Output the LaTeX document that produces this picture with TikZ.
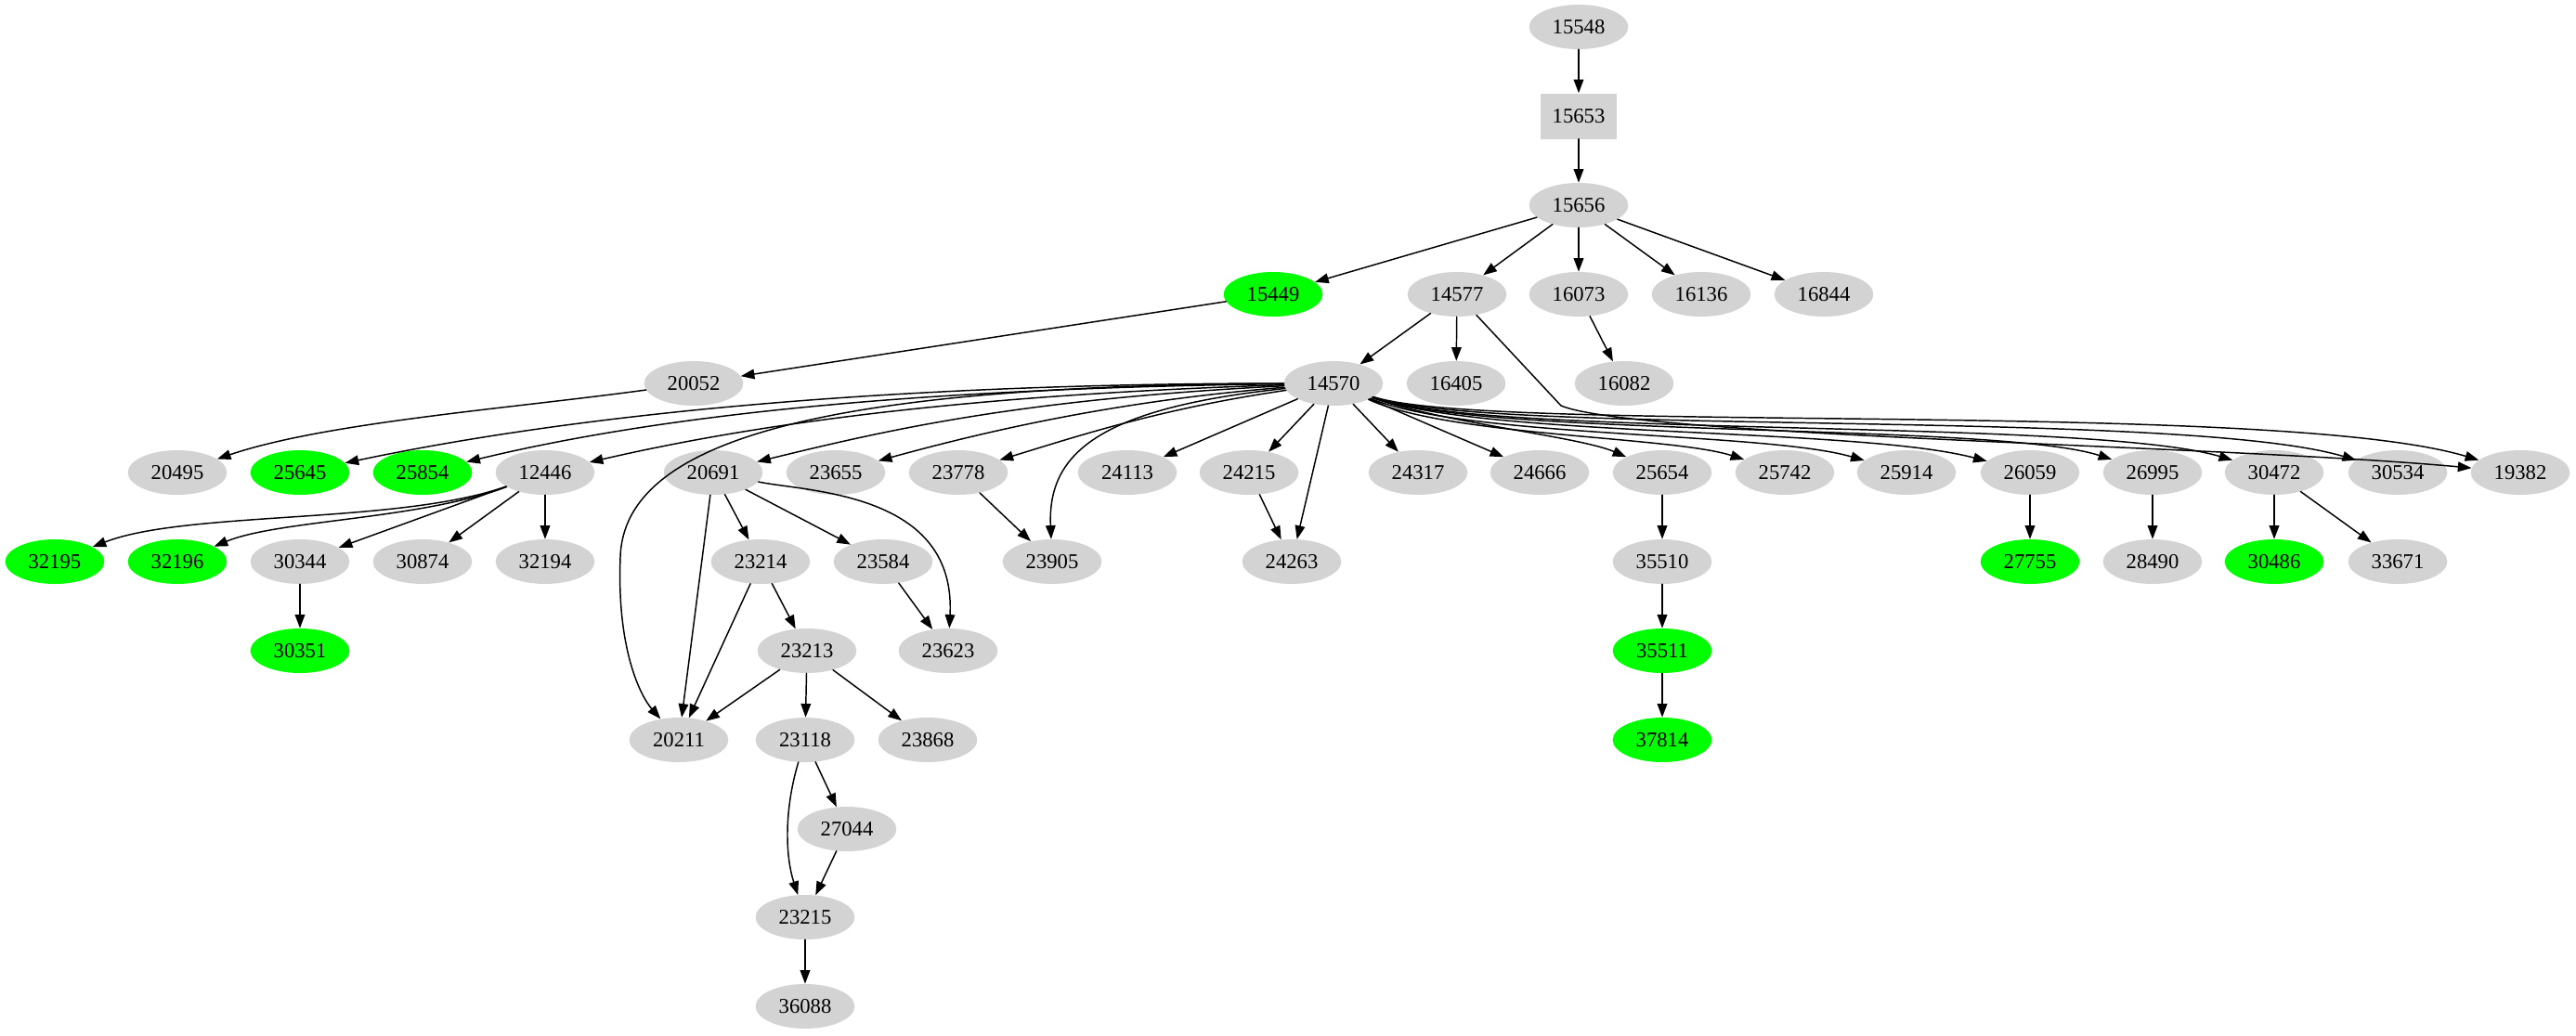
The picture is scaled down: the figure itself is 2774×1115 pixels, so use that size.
\documentclass[tikz,border=0pt]{standalone}
\usepackage{fontspec}
\setmainfont{Liberation Serif}
\usepackage{tikz}
\usetikzlibrary{arrows.meta}
\usetikzlibrary{shapes.geometric}

\definecolor{gvgray}{HTML}{D3D3D3}
\definecolor{gvgreen}{HTML}{00FF00}

\begin{document}
\begin{tikzpicture}[x=0.75pt,y=-0.75pt,line cap=round,line join=round,
        gnode/.style={ellipse,fill=gvgray,minimum width=80pt,minimum height=36pt,inner sep=0pt,font=\fontsize{17}{19}\selectfont},
        gleaf/.style={gnode,fill=gvgreen},
        gbox/.style={rectangle,fill=gvgray,minimum width=61.5pt,minimum height=36.75pt,inner sep=0pt,font=\fontsize{17}{19}\selectfont},
        edge/.style={-{Triangle[length=11pt,width=8pt]},line width=1.1pt}]
        \useasboundingbox (0,0) rectangle (2774,1115);

        % top chain
        \node[gnode] (n15548) at (1700, 29) {15548};
        \node[gbox] (n15653) at (1700, 125) {15653};
        \node[gnode] (n15656) at (1700, 221) {15656};

        \node[gleaf] (n15449) at (1371, 317) {15449};
        \node[gnode] (n14577) at (1569, 317) {14577};
        \node[gnode] (n16073) at (1700, 317) {16073};
        \node[gnode] (n16136) at (1832, 317) {16136};
        \node[gnode] (n16844) at (1964, 317) {16844};

        \node[gnode] (n20052) at (747, 413) {20052};
        \node[gnode] (n14570) at (1436, 413) {14570};
        \node[gnode] (n16405) at (1568, 413) {16405};
        \node[gnode] (n16082) at (1749, 413) {16082};

        % children of 14570
        \node[gnode] (n20495) at (191, 509) {20495};
        \node[gleaf] (n25645) at (323, 509) {25645};
        \node[gleaf] (n25854) at (455, 509) {25854};
        \node[gnode] (n12446) at (587, 509) {12446};
        \node[gnode] (n20691) at (768, 509) {20691};
        \node[gnode] (n23655) at (900, 509) {23655};
        \node[gnode] (n23778) at (1032, 509) {23778};
        \node[gnode] (n24113) at (1214, 509) {24113};
        \node[gnode] (n24215) at (1345, 509) {24215};
        \node[gnode] (n24317) at (1527, 509) {24317};
        \node[gnode] (n24666) at (1658, 509) {24666};
        \node[gnode] (n25654) at (1790, 509) {25654};
        \node[gnode] (n25742) at (1922, 509) {25742};
        \node[gnode] (n25914) at (2053, 509) {25914};
        \node[gnode] (n26059) at (2186, 509) {26059};
        \node[gnode] (n26995) at (2318, 509) {26995};
        \node[gnode] (n30472) at (2449, 509) {30472};
        \node[gnode] (n30534) at (2582, 509) {30534};
        \node[gnode] (n19382) at (2714, 509) {19382};

        \node[gleaf] (n32195) at (59, 605) {32195};
        \node[gleaf] (n32196) at (191, 605) {32196};
        \node[gnode] (n30344) at (323, 605) {30344};
        \node[gnode] (n30874) at (455, 605) {30874};
        \node[gnode] (n32194) at (587, 605) {32194};
        \node[gnode] (n23214) at (819, 605) {23214};
        \node[gnode] (n23584) at (951, 605) {23584};
        \node[gnode] (n23905) at (1133, 605) {23905};
        \node[gnode] (n24263) at (1391, 605) {24263};
        \node[gnode] (n35510) at (1790, 605) {35510};
        \node[gleaf] (n27755) at (2186, 605) {27755};
        \node[gnode] (n28490) at (2318, 605) {28490};
        \node[gleaf] (n30486) at (2449, 605) {30486};
        \node[gnode] (n33671) at (2582, 605) {33671};

        \node[gleaf] (n30351) at (323, 701) {30351};
        \node[gnode] (n23213) at (869, 701) {23213};
        \node[gnode] (n23623) at (1021, 701) {23623};
        \node[gleaf] (n35511) at (1790, 701) {35511};

        \node[gnode] (n20211) at (731, 797) {20211};
        \node[gnode] (n23118) at (867, 797) {23118};
        \node[gnode] (n23868) at (999, 797) {23868};
        \node[gleaf] (n37814) at (1790, 797) {37814};

        \node[gnode] (n27044) at (912, 893) {27044};
        \node[gnode] (n23215) at (867, 988) {23215};
        \node[gnode] (n36088) at (867, 1084) {36088};

        % straight edges
        \draw[edge] (n15548) -- (n15653);
        \draw[edge] (n15653) -- (n15656);
        \draw[edge] (n15656) -- (n15449);
        \draw[edge] (n15656) -- (n14577);
        \draw[edge] (n15656) -- (n16073);
        \draw[edge] (n15656) -- (n16136);
        \draw[edge] (n15656) -- (n16844);
        \draw[edge] (n15449) -- (n20052);
        \draw[edge] (n14577) -- (n14570);
        \draw[edge] (n14577) -- (n16405);
        \draw[edge] (n16073) -- (n16082);

        \draw[edge] (n14570) -- (n24113);
        \draw[edge] (n14570) -- (n24215);
        \draw[edge] (n14570) -- (n24263);
        \draw[edge] (n14570) -- (n24317);
        \draw[edge] (n14570) -- (n24666);

        \draw[edge] (n12446) -- (n30344);
        \draw[edge] (n12446) -- (n30874);
        \draw[edge] (n12446) -- (n32194);
        \draw[edge] (n30344) -- (n30351);
        \draw[edge] (n20691) -- (n20211);
        \draw[edge] (n20691) -- (n23214);
        \draw[edge] (n20691) -- (n23584);
        \draw[edge] (n23214) -- (n20211);
        \draw[edge] (n23214) -- (n23213);
        \draw[edge] (n23213) -- (n20211);
        \draw[edge] (n23213) -- (n23118);
        \draw[edge] (n23213) -- (n23868);
        \draw[edge] (n23118) -- (n27044);
        \draw[edge] (n27044) -- (n23215);
        \draw[edge] (n23215) -- (n36088);
        \draw[edge] (n23584) -- (n23623);
        \draw[edge] (n23778) -- (n23905);
        \draw[edge] (n24215) -- (n24263);
        \draw[edge] (n25654) -- (n35510);
        \draw[edge] (n35510) -- (n35511);
        \draw[edge] (n35511) -- (n37814);
        \draw[edge] (n26059) -- (n27755);
        \draw[edge] (n26995) -- (n28490);
        \draw[edge] (n30472) -- (n30486);
        \draw[edge] (n30472) -- (n33671);

        % curved edges, left side
        \draw[edge] (n20052) .. controls (550,440) and (350,455) .. (n20495);
        \draw[edge] (n14570) .. controls (1000,413) and (650,440) .. (n25645);
        \draw[edge] (n14570) .. controls (1000,418) and (720,445) .. (n25854);
        \draw[edge] (n14570) .. controls (1050,425) and (820,455) .. (n12446);
        \draw[edge] (n14570) .. controls (1100,430) and (960,462) .. (n20691);
        \draw[edge] (n14570) .. controls (1200,432) and (1060,465) .. (n23655);
        \draw[edge] (n14570) .. controls (1250,440) and (1160,470) .. (n23778);
        \draw[edge] (n14570) .. controls (900,415) and (672,470) .. (668,600)
            .. controls (664,700) and (690,750) .. (n20211);
        \draw[edge] (n14570) .. controls (1180,440) and (1128,490) .. (n23905);
        \draw[edge] (n20691) .. controls (870,530) and (1030,530) .. (n23623);
        \draw[edge] (n23118) .. controls (845,870) and (845,920) .. (n23215);
        \draw[edge] (n12446) .. controls (430,565) and (200,550) .. (n32195);
        \draw[edge] (n12446) .. controls (450,560) and (300,560) .. (n32196);

        % curved edges, right side
        \draw[edge] (n14570) .. controls (1550,455) and (1700,470) .. (n25654);
        \draw[edge] (n14570) .. controls (1560,470) and (1800,470) .. (n25742);
        \draw[edge] (n14570) .. controls (1580,472) and (1900,465) .. (n25914);
        \draw[edge] (n14570) .. controls (1600,472) and (2000,460) .. (n26059);
        \draw[edge] (n14570) .. controls (1600,472) and (2150,455) .. (n26995);
        \draw[edge] (n14570) .. controls (1600,472) and (2250,450) .. (n30472);
        \draw[edge] (n14570) .. controls (1600,470) and (2350,440) .. (n30534);
        \draw[edge] (n14570) .. controls (1600,468) and (2450,430) .. (n19382);
        \draw[edge] (n14577) -- (1681,437) .. controls (1760,470) and (2400,480) .. (n19382);
    \end{tikzpicture}
\end{document}
